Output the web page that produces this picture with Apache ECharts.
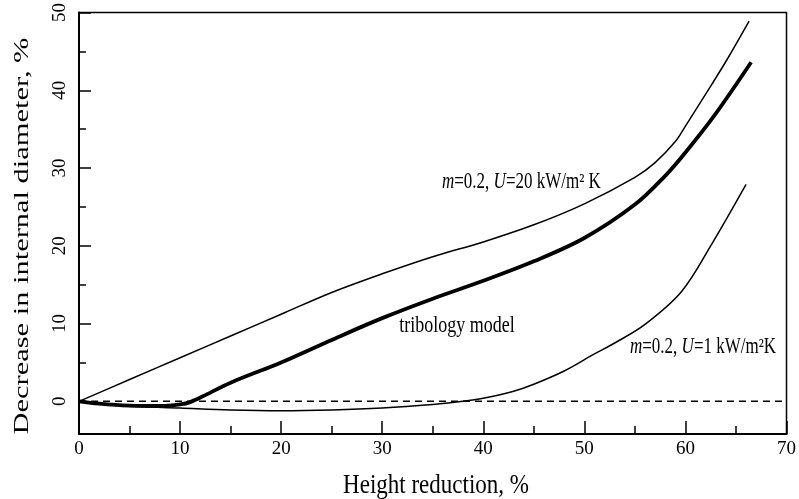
<!DOCTYPE html>
<html>
<head>
<meta charset="utf-8">
<script src="https://cdn.jsdelivr.net/npm/echarts@6/dist/echarts.min.js"></script>
<style>html,body{margin:0;padding:0;background:#fff;}#c{width:799px;height:499px;}</style>
</head>
<body>
<div id="c"></div>
<script>
// Curve m=0.2, U=20 kW/m²K
const xU20 = [0, 5, 10, 15, 20, 25, 30, 35, 40, 45, 50, 55, 57, 59, 60, 62, 64, 66.3];
const yU20 = [0, 2.8, 5.6, 8.4, 11.2, 14.0, 16.4, 18.6, 20.5, 22.7, 25.4, 28.8, 30.7, 33.4, 35.4, 39.5, 43.7, 48.9];
// Tribology model (thick)
const xTrib = [0, 2, 5, 8, 10, 11, 12.5, 15, 20, 25, 30, 35, 40, 45, 50, 55, 58, 60, 63, 66.5];
const yTrib = [0, -0.3, -0.55, -0.6, -0.4, -0.1, 0.8, 2.4, 5.0, 7.9, 10.7, 13.2, 15.5, 18.0, 21.0, 25.3, 29.0, 32.0, 37.0, 43.6];
// Curve m=0.2, U=1 kW/m²K
const xU1 = [0, 5, 10, 15, 20, 25, 30, 35, 38, 40, 43, 45, 48, 51, 53, 56, 59.6, 62.5, 66];
const yU1 = [0, -0.6, -0.85, -1.1, -1.2, -1.1, -0.85, -0.4, 0, 0.4, 1.3, 2.2, 3.9, 6.1, 7.5, 9.9, 14.1, 20.0, 27.9];
// zero reference line
const xZero = [0, 70];
const yZero = [0, 0];
// ticks
const yMajorTicks = [0, 10, 20, 30, 40, 50];
const yMinorTicks = [5, 15, 25, 35, 45];

const zip = (a, b) => a.map((v, i) => [v, b[i]]);
const FONT = 'Liberation Serif';

const chart = echarts.init(document.getElementById('c'), null, {renderer: 'canvas'});
chart.setOption({
  animation: false,
  backgroundColor: '#fff',
  grid: {left: 79, right: 6, top: 8.5, bottom: 65, show: true, borderColor: '#000', borderWidth: 1.5, containLabel: false},
  xAxis: {
    type: 'value', min: 0, max: 70, interval: 10,
    axisLine: {show: true, onZero: false, lineStyle: {color: '#000', width: 2}},
    axisTick: {show: true, inside: true, length: 13, lineStyle: {color: '#000', width: 1.5}},
    minorTick: {show: true, splitNumber: 2, length: 8, lineStyle: {color: '#000', width: 1.5}},
    splitLine: {show: false},
    axisLabel: {color: '#000', fontFamily: FONT, fontSize: 19, margin: 6}
  },
  yAxis: [{
    type: 'value', min: -4.2, max: 50,
    axisLine: {show: true, onZero: false, lineStyle: {color: '#000', width: 2}},
    axisTick: {show: true, inside: true, length: 12, customValues: yMajorTicks, lineStyle: {color: '#000', width: 1.5}},
    splitLine: {show: false},
    axisLabel: {color: '#000', fontFamily: FONT, fontSize: 19, rotate: 90, margin: 9, customValues: yMajorTicks}
  }, {
    type: 'value', min: -4.2, max: 50, position: 'left',
    axisLine: {show: false, onZero: false},
    axisTick: {show: true, inside: true, length: 7, customValues: yMinorTicks, lineStyle: {color: '#000', width: 1.5}},
    splitLine: {show: false},
    axisLabel: {show: false}
  }],
  series: [
    {type: 'line', data: zip(xZero, yZero), symbol: 'none', lineStyle: {color: '#000', width: 1.5, type: [7, 5]}},
    {type: 'line', data: zip(xU20, yU20), symbol: 'none', smooth: 0.35, lineStyle: {color: '#000', width: 1.5}},
    {type: 'line', data: zip(xTrib, yTrib), symbol: 'none', smooth: 0.35, lineStyle: {color: '#000', width: 3.8}},
    {type: 'line', data: zip(xU1, yU1), symbol: 'none', smooth: 0.35, lineStyle: {color: '#000', width: 1.5}}
  ],
  graphic: [
    {type: 'text', x: 436, y: 486, scaleY: 1.2, style: {text: 'Height reduction, %', fontFamily: FONT, fontSize: 23, fill: '#000', align: 'center', verticalAlign: 'middle'}},
    {type: 'text', x: 22, y: 236, rotation: Math.PI / 2, scaleX: 1.45, style: {text: 'Decrease in internal diameter, %', fontFamily: FONT, fontSize: 21, fill: '#000', align: 'center', verticalAlign: 'middle'}},
    {type: 'text', x: 442, y: 182, scaleY: 1.3, style: {text: '{i|m}=0.2, {i|U}=20 kW/m² K', fontFamily: FONT, fontSize: 17, fill: '#000', align: 'left', verticalAlign: 'middle', rich: {i: {fontStyle: 'italic', fontFamily: FONT, fontSize: 17}}}},
    {type: 'text', x: 457, y: 326, scaleY: 1.3, style: {text: 'tribology model', fontFamily: FONT, fontSize: 18, fill: '#000', align: 'center', verticalAlign: 'middle'}},
    {type: 'text', x: 630, y: 347, scaleY: 1.3, style: {text: '{i|m}=0.2, {i|U}=1 kW/m²K', fontFamily: FONT, fontSize: 17, fill: '#000', align: 'left', verticalAlign: 'middle', rich: {i: {fontStyle: 'italic', fontFamily: FONT, fontSize: 17}}}}
  ]
});
</script>
</body>
</html>
